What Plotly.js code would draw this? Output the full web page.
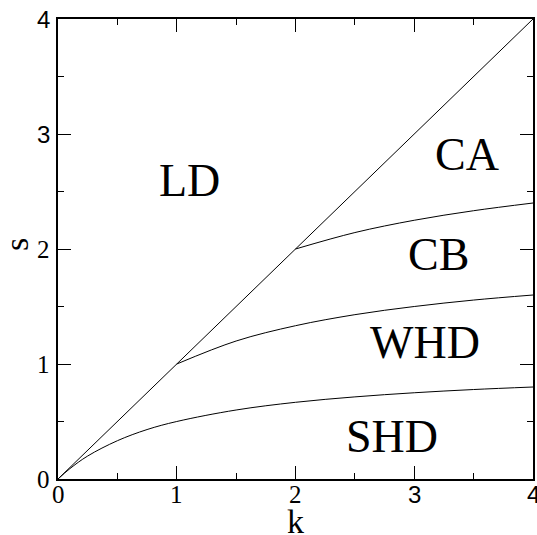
<!DOCTYPE html>
<html><head><meta charset="utf-8">
<script src="https://cdn.plot.ly/plotly-3.0.1.min.js"></script>
<style>
html,body{margin:0;padding:0;background:#fff}
#g{width:537px;height:535px}
.modebar-container,.modebar{display:none !important;}
</style>
</head><body><div id="g"></div>
<script>
var diagK = [0, 4];
var diagS = [0, 4];
var shdK = [0, 0.1, 0.25, 0.5, 0.75, 1, 1.5, 2, 2.5, 3, 3.5, 4];
var shdS = [0, 0.09, 0.2, 0.333, 0.43, 0.5, 0.6, 0.667, 0.714, 0.75, 0.778, 0.8];
var whdK = [1, 1.5, 2, 2.5, 3, 3.5, 4];
var whdS = [1, 1.2, 1.333, 1.429, 1.5, 1.556, 1.6];
var cbK = [2, 2.5, 3, 3.5, 4];
var cbS = [2, 2.143, 2.25, 2.333, 2.4];
var tickVals = [0, 1, 2, 3, 4];
var tickLabels = ["0", "1", "2", "3", "4"];
var xTitle = "k";
var yTitle = "s";
var regionNames = ["LD", "CA", "CB", "WHD", "SHD"];
var regionK = [1.11, 3.44, 3.2, 3.09, 2.81];
var regionS = [2.6, 2.82, 1.95, 1.19, 0.37];

var SERIF = "Liberation Serif, Times New Roman, serif";
var SANS = "Liberation Sans, Arial, sans-serif";
function tickFont(v){
  return v >= 3 ? {family: SANS, size: 24, color: "#000"} : {family: SERIF, size: 25, color: "#000"};
}

var lineStyle = {color: "#000", width: 1, shape: "spline"};
var traces = [
  {x: diagK, y: diagS, mode: "lines", line: {color: "#000", width: 1}},
  {x: shdK, y: shdS, mode: "lines", line: lineStyle},
  {x: whdK, y: whdS, mode: "lines", line: lineStyle},
  {x: cbK, y: cbS, mode: "lines", line: lineStyle}
];
var annotations = regionNames.map(function(n, i){
  return {x: regionK[i], y: regionS[i], text: n, showarrow: false, xref: "x", yref: "y",
          font: {family: SERIF, size: 46, color: "#000"}};
});
tickVals.forEach(function(v, i){
  annotations.push({x: v, y: 0, xref: "x", yref: "paper", text: tickLabels[i], showarrow: false,
    xanchor: "center", yanchor: "middle", yshift: -15, font: tickFont(v)});
  annotations.push({x: 0, y: v, xref: "paper", yref: "y", text: tickLabels[i], showarrow: false,
    xanchor: "right", yanchor: "middle", xshift: -6, font: tickFont(v)});
});
annotations.push({x: 0.5, y: 0, xref: "paper", yref: "paper", text: xTitle, showarrow: false,
  xanchor: "center", yanchor: "middle", yshift: -42, font: {family: SERIF, size: 34, color: "#000"}});
annotations.push({x: 0, y: 0.5, xref: "paper", yref: "paper", text: yTitle, showarrow: false, textangle: -90,
  xanchor: "center", yanchor: "middle", xshift: -42, yshift: 4, font: {family: SERIF, size: 34, color: "#000"}});

function axisBase(){
  return {
    showgrid: false, zeroline: false, showline: true, linecolor: "#000", linewidth: 2,
    mirror: "ticks", ticks: "inside", ticklen: 13, tickwidth: 1, tickcolor: "#000",
    tickmode: "array", tickvals: tickVals, showticklabels: false, range: [0, 4],
    minor: {dtick: 0.5, tick0: 0, ticks: "inside", ticklen: 6, tickwidth: 1, tickcolor: "#000", showgrid: false}
  };
}
var layout = {
  width: 537, height: 535, showlegend: false,
  font: {family: SERIF, color: "#000"},
  margin: {l: 58, r: 4, t: 19, b: 56},
  paper_bgcolor: "#fff", plot_bgcolor: "#fff",
  xaxis: axisBase(), yaxis: axisBase(), annotations: annotations
};
Plotly.newPlot("g", traces, layout);
</script></body></html>
